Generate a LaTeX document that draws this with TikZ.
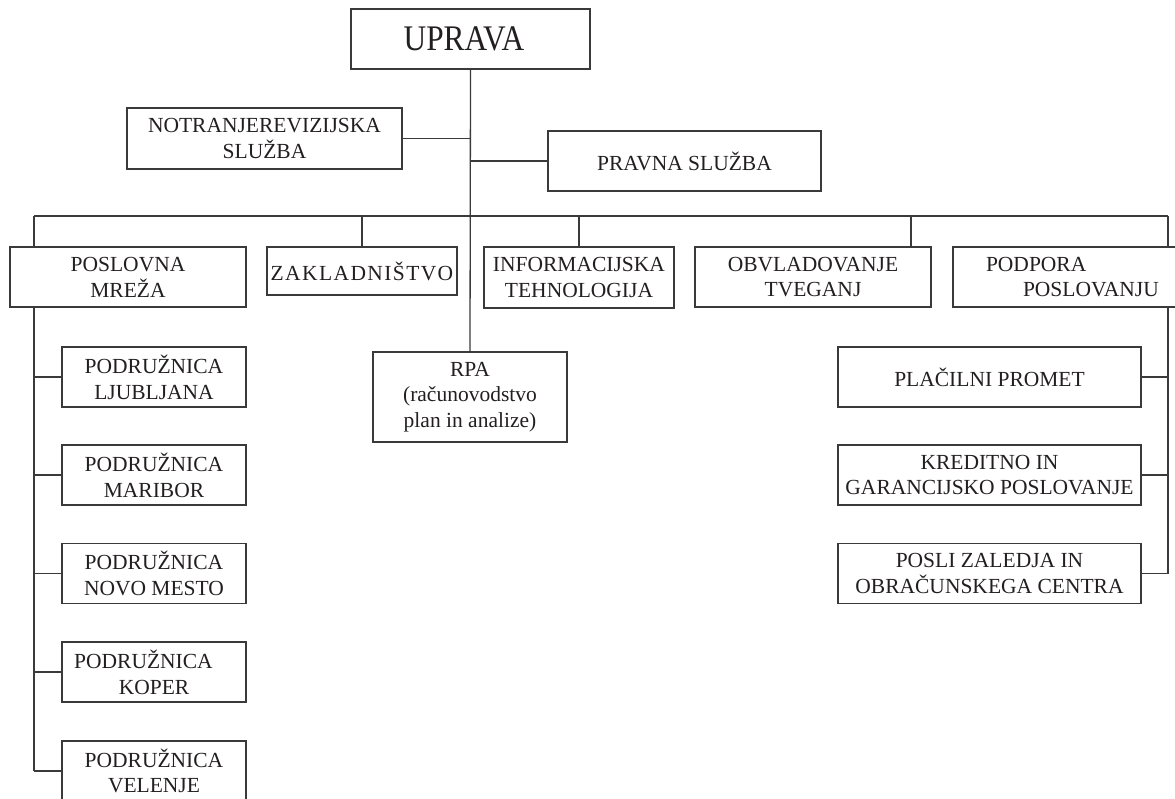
\documentclass[tikz,border=0pt]{standalone}
\usepackage{fontspec}
\setmainfont{Liberation Serif}
\usepackage{tikz}
\definecolor{ink}{HTML}{231F20}
\definecolor{rule}{HTML}{3A3A3A}
\tikzset{
  line/.style={draw=rule, line width=1.3pt},
  unit/.style={draw=rule, line width=1.3pt, inner sep=0pt, align=center, text=ink,
    font=\fontsize{21.5}{25.8}\selectfont},
  head/.style={unit, font=\fontsize{36}{40}\selectfont\addfontfeature{FakeStretch=0.87}},
  branch/.style={unit, minimum width=184pt, minimum height=60pt},
  service/.style={unit, minimum width=303pt, minimum height=60pt}
}

\begin{document}
\begin{tikzpicture}[x=1pt, y=-1pt]
  \useasboundingbox (0,0) rectangle (1175,799);
  \clip (0,0) rectangle (1175,799);

  \node[head, minimum width=239pt, minimum height=60pt] (uprava) at (470.5,39) {UPRAVA\kern13pt};
  \node[unit, minimum width=275pt, minimum height=61pt] (notr) at (264.5,138.5) {NOTRANJEREVIZIJSKA\\SLUŽBA};
  \node[unit, minimum width=273pt, minimum height=60pt] (pravna) at (684.5,161) {PRAVNA SLUŽBA};

  \node[unit, minimum width=236pt, minimum height=60pt] (poslovna) at (128,277) {POSLOVNA\\MREŽA};
  \node[unit, minimum width=190pt, minimum height=48pt] (zak) at (362,271) {\addfontfeature{LetterSpace=6.5}ZAKLADNIŠTVO};
  \node[unit, minimum width=190pt, minimum height=61pt] (info) at (579,277.5) {INFORMACIJSKA\\TEHNOLOGIJA};
  \node[unit, minimum width=236pt, minimum height=60pt] (obvl) at (813,277) {OBVLADOVANJE\\TVEGANJ};
  \node[unit, align=left, text width=181pt, inner xsep=33pt, minimum width=247pt, minimum height=60pt]
    (podpora) at (1076.5,277) {PODPORA\\\hspace*{37pt}POSLOVANJU};

  \node[unit, minimum width=194pt, minimum height=90pt] (rpa) at (470,397) {RPA\\(računovodstvo\\plan in analize)};

  \node[branch] (ljubljana) at (154,377) {PODRUŽNICA\\LJUBLJANA};
  \node[branch] (maribor) at (154,475) {PODRUŽNICA\\MARIBOR};
  \node[branch] (novomesto) at (154,573.5) {PODRUŽNICA\\NOVO MESTO};
  \node[branch] (koper) at (154,672) {PODRUŽNICA\kern21pt\\KOPER};
  \node[branch] (velenje) at (154,771) {PODRUŽNICA\\VELENJE};

  \node[service] (placilni) at (989.5,377) {PLAČILNI PROMET};
  \node[service] (kreditno) at (989.5,475) {KREDITNO IN\\GARANCIJSKO POSLOVANJE};
  \node[service] (posli) at (989.5,573.5) {POSLI ZALEDJA IN\\OBRAČUNSKEGA CENTRA};

  \coordinate (busL) at (34,216);
  \coordinate (busR) at (1168,216);
  \coordinate (risk) at (911,216);

  \draw[line] (uprava.south) -- (rpa.north);
  \draw[line] (notr.east) -- (notr.east -| uprava.south);
  \draw[line] (pravna.west) -- (pravna.west -| uprava.south);

  \draw[line] (busL) -- (busR);
  \draw[line] (busL) -- (busL |- poslovna.north);
  \draw[line] (zak.north) -- (zak.north |- busL);
  \draw[line] (info.north) -- (info.north |- busL);
  \draw[line] (risk) -- (risk |- obvl.north);
  \draw[line] (busR) -- (busR |- podpora.north);

  \draw[line] (busL |- poslovna.south) -- (busL |- velenje.west);
  \foreach \n in {ljubljana,maribor,novomesto,koper,velenje}
    \draw[line] (\n.west) -- (\n.west -| busL);

  \draw[line] (busR |- podpora.south) -- (busR |- posli.east);
  \foreach \n in {placilni,kreditno,posli}
    \draw[line] (\n.east) -- (\n.east -| busR);
\end{tikzpicture}
\end{document}
